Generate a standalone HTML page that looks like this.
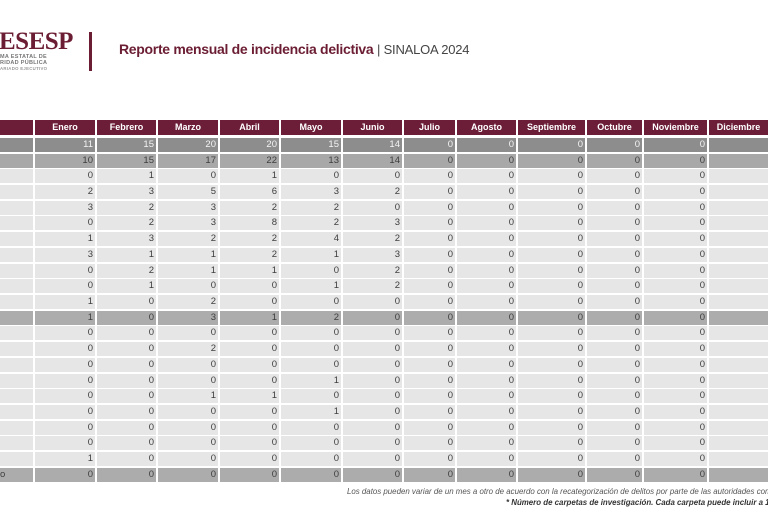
<!DOCTYPE html>
<html><head><meta charset="utf-8"><style>
*{margin:0;padding:0;box-sizing:border-box}
html,body{width:768px;height:512px;overflow:hidden;background:#fff}
body{font-family:"Liberation Sans",sans-serif}
#wrap{position:relative;width:768px;height:512px;overflow:hidden}
.logo{position:absolute;left:-1px;top:28px;font-family:"Liberation Serif",serif;font-weight:bold;font-size:25px;color:#6b1d33;letter-spacing:-0.5px}
.sub{position:absolute;left:0;font-size:5.5px;font-weight:bold;color:#777;letter-spacing:0.3px;white-space:nowrap}
.vl{position:absolute;left:89px;top:32px;width:2.5px;height:39px;background:#6b1d33}
.title{position:absolute;left:119px;top:41px;font-size:14px;font-weight:bold;color:#6b1d33;letter-spacing:-0.3px;white-space:nowrap}
.title span{font-weight:normal;color:#444;letter-spacing:-0.2px;font-size:13px}
.row{position:absolute;left:0;width:768px;height:14px;display:flex;gap:2px;overflow:hidden}
.row div{flex:none;height:100%;font-size:9.5px;line-height:14px;text-align:right;padding-right:2px;color:#3e3e3e;white-space:nowrap;overflow:hidden}
.row div:nth-child(1){width:33px}
.row div:nth-child(2){width:60px}
.row div:nth-child(3){width:59px}
.row div:nth-child(4){width:60px}
.row div:nth-child(5){width:59px}
.row div:nth-child(6){width:60px}
.row div:nth-child(7){width:59px}
.row div:nth-child(8){width:51px}
.row div:nth-child(9){width:59px}
.row div:nth-child(10){width:67px}
.row div:nth-child(11){width:55px}
.row div:nth-child(12){width:63px}
.row div:nth-child(13){width:59px}
.hd{height:15px!important}
.hd div{background:#6c1e38;color:#fff!important;font-weight:bold;text-align:center!important;font-size:9px!important;line-height:15px!important;padding:0!important}
.d1 div{background:#8d8d8d;color:#f4f4f4!important}
.d2 div{background:#a8a8a8}
.l div{background:#e6e6e6}
.m div{background:#acacac}
.f1{position:absolute;left:347px;top:487px;width:421px;overflow:hidden;font-size:7.9px;font-style:italic;color:#555;white-space:nowrap}
.f2{position:absolute;left:506px;top:498px;width:262px;overflow:hidden;font-size:7.9px;font-style:italic;font-weight:bold;color:#333;white-space:nowrap}
</style></head><body><div id="wrap">
<div class="logo">ESESP</div>
<div class="sub" style="top:54px">MA ESTATAL DE</div>
<div class="sub" style="top:60px">RIDAD PÚBLICA</div>
<div class="sub" style="top:66px;font-size:4.3px;color:#999">ARIADO EJECUTIVO</div>
<div class="vl"></div>
<div class="title">Reporte mensual de incidencia delictiva <span>| SINALOA 2024</span></div>

<div class="row hd" style="top:120px"><div></div><div>Enero</div><div>Febrero</div><div>Marzo</div><div>Abril</div><div>Mayo</div><div>Junio</div><div>Julio</div><div>Agosto</div><div>Septiembre</div><div>Octubre</div><div>Noviembre</div><div>Diciembre</div></div>

<div class="row d1" style="top:138px"><div></div><div>11</div><div>15</div><div>20</div><div>20</div><div>15</div><div>14</div><div>0</div><div>0</div><div>0</div><div>0</div><div>0</div><div></div></div>
<div class="row d2" style="top:154px"><div></div><div>10</div><div>15</div><div>17</div><div>22</div><div>13</div><div>14</div><div>0</div><div>0</div><div>0</div><div>0</div><div>0</div><div></div></div>
<div class="row l" style="top:169px"><div></div><div>0</div><div>1</div><div>0</div><div>1</div><div>0</div><div>0</div><div>0</div><div>0</div><div>0</div><div>0</div><div>0</div><div></div></div>
<div class="row l" style="top:185px"><div></div><div>2</div><div>3</div><div>5</div><div>6</div><div>3</div><div>2</div><div>0</div><div>0</div><div>0</div><div>0</div><div>0</div><div></div></div>
<div class="row l" style="top:201px"><div></div><div>3</div><div>2</div><div>3</div><div>2</div><div>2</div><div>0</div><div>0</div><div>0</div><div>0</div><div>0</div><div>0</div><div></div></div>
<div class="row l" style="top:216px"><div></div><div>0</div><div>2</div><div>3</div><div>8</div><div>2</div><div>3</div><div>0</div><div>0</div><div>0</div><div>0</div><div>0</div><div></div></div>
<div class="row l" style="top:232px"><div></div><div>1</div><div>3</div><div>2</div><div>2</div><div>4</div><div>2</div><div>0</div><div>0</div><div>0</div><div>0</div><div>0</div><div></div></div>
<div class="row l" style="top:248px"><div></div><div>3</div><div>1</div><div>1</div><div>2</div><div>1</div><div>3</div><div>0</div><div>0</div><div>0</div><div>0</div><div>0</div><div></div></div>
<div class="row l" style="top:264px"><div></div><div>0</div><div>2</div><div>1</div><div>1</div><div>0</div><div>2</div><div>0</div><div>0</div><div>0</div><div>0</div><div>0</div><div></div></div>
<div class="row l" style="top:279px"><div></div><div>0</div><div>1</div><div>0</div><div>0</div><div>1</div><div>2</div><div>0</div><div>0</div><div>0</div><div>0</div><div>0</div><div></div></div>
<div class="row l" style="top:295px"><div></div><div>1</div><div>0</div><div>2</div><div>0</div><div>0</div><div>0</div><div>0</div><div>0</div><div>0</div><div>0</div><div>0</div><div></div></div>
<div class="row m" style="top:311px"><div></div><div>1</div><div>0</div><div>3</div><div>1</div><div>2</div><div>0</div><div>0</div><div>0</div><div>0</div><div>0</div><div>0</div><div></div></div>
<div class="row l" style="top:326px"><div></div><div>0</div><div>0</div><div>0</div><div>0</div><div>0</div><div>0</div><div>0</div><div>0</div><div>0</div><div>0</div><div>0</div><div></div></div>
<div class="row l" style="top:342px"><div></div><div>0</div><div>0</div><div>2</div><div>0</div><div>0</div><div>0</div><div>0</div><div>0</div><div>0</div><div>0</div><div>0</div><div></div></div>
<div class="row l" style="top:358px"><div></div><div>0</div><div>0</div><div>0</div><div>0</div><div>0</div><div>0</div><div>0</div><div>0</div><div>0</div><div>0</div><div>0</div><div></div></div>
<div class="row l" style="top:374px"><div></div><div>0</div><div>0</div><div>0</div><div>0</div><div>1</div><div>0</div><div>0</div><div>0</div><div>0</div><div>0</div><div>0</div><div></div></div>
<div class="row l" style="top:389px"><div></div><div>0</div><div>0</div><div>1</div><div>1</div><div>0</div><div>0</div><div>0</div><div>0</div><div>0</div><div>0</div><div>0</div><div></div></div>
<div class="row l" style="top:405px"><div></div><div>0</div><div>0</div><div>0</div><div>0</div><div>1</div><div>0</div><div>0</div><div>0</div><div>0</div><div>0</div><div>0</div><div></div></div>
<div class="row l" style="top:421px"><div></div><div>0</div><div>0</div><div>0</div><div>0</div><div>0</div><div>0</div><div>0</div><div>0</div><div>0</div><div>0</div><div>0</div><div></div></div>
<div class="row l" style="top:436px"><div></div><div>0</div><div>0</div><div>0</div><div>0</div><div>0</div><div>0</div><div>0</div><div>0</div><div>0</div><div>0</div><div>0</div><div></div></div>
<div class="row l" style="top:452px"><div></div><div>1</div><div>0</div><div>0</div><div>0</div><div>0</div><div>0</div><div>0</div><div>0</div><div>0</div><div>0</div><div>0</div><div></div></div>
<div class="row m" style="top:468px"><div style="text-align:left;padding-left:0">o</div><div>0</div><div>0</div><div>0</div><div>0</div><div>0</div><div>0</div><div>0</div><div>0</div><div>0</div><div>0</div><div>0</div><div></div></div>

<div class="f1">Los datos pueden variar de un mes a otro de acuerdo con la recategorización de delitos por parte de las autoridades competentes.</div>
<div class="f2">* Número de carpetas de investigación. Cada carpeta puede incluir a 1 o más víctimas.</div>
</div></body></html>
